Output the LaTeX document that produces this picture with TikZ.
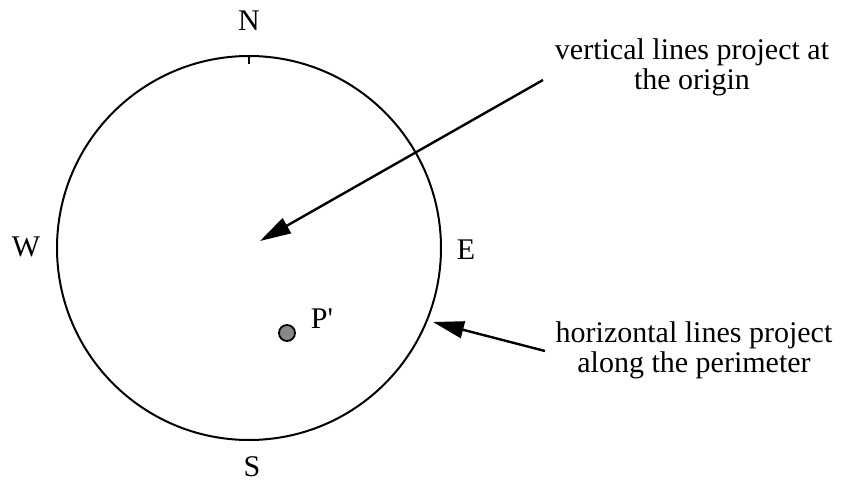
\documentclass[tikz,border=0pt]{standalone}
\usepackage{fontspec}
\setmainfont{Liberation Serif}
\newfontfamily\rawserif{Liberation Serif}[Ligatures=TeXOff]
\usetikzlibrary{arrows.meta}
\definecolor{dotgray}{RGB}{136,136,136}
\begin{document}
\begin{tikzpicture}[x=1pt,y=-1pt,
  lbl/.style={font=\fontsize{30}{30}\selectfont, inner sep=0pt, anchor=base},
  note/.style={font=\fontsize{30}{30}\selectfont, inner sep=0pt, align=center, anchor=base},
  pointer/.style={line width=2.4pt, -{Triangle[length=31pt,width=17pt]}}]
\useasboundingbox (0,0) rectangle (847,484);
\node[circle, draw, line width=2pt, minimum size=384pt, inner sep=0pt] (c) at (249,248) {};
\draw[line width=2pt] (c.north) -- ++(0,9);
\node[lbl] (n) at (249,31) {N};
\node[lbl] (w) at (26,256) {W};
\node[lbl] (e) at (466,259) {E};
\node[lbl] (s) at (252,476) {S};
\node[circle, draw, line width=1.8pt, fill=dotgray, minimum size=16pt, inner sep=0pt] (p) at (287,333) {};
\node[lbl] (pl) at (322,328) {P{\rawserif '}};
\node[note] (t1) at (692,90) {vertical lines project at\\the origin};
\node[note] (t2) at (694,372) {horizontal lines project\\along the perimeter};
\coordinate (a1) at (543,80);
\coordinate (o) at (260,241);
\coordinate (a2) at (545,351);
\coordinate (q) at (433,322);
\draw[pointer] (a1) -- (o);
\draw[pointer] (a2) -- (q);
\end{tikzpicture}
\end{document}
